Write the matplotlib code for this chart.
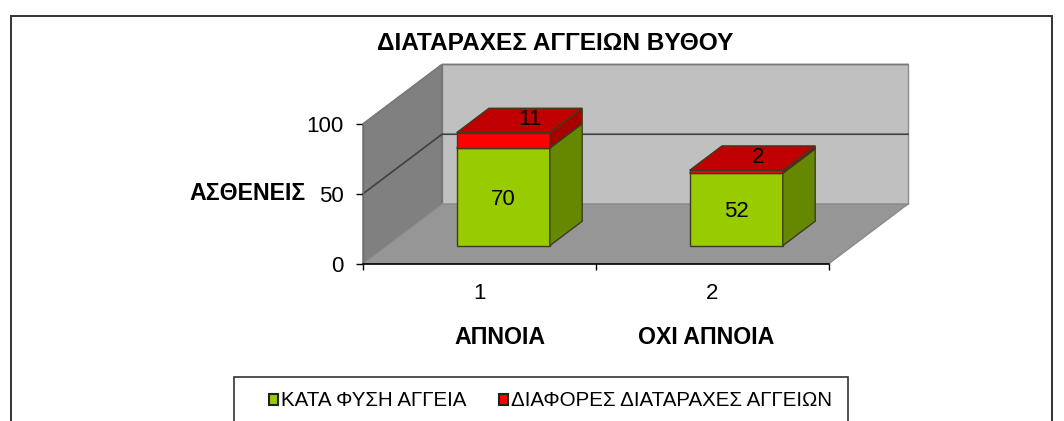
import matplotlib
matplotlib.use('Agg')
import matplotlib.pyplot as plt
from matplotlib.patches import Polygon, Patch, Rectangle
from matplotlib.lines import Line2D

categories = ['1', '2']
group_names = ['ΑΠΝΟΙΑ', 'ΟΧΙ ΑΠΝΟΙΑ']
normal = [70, 52]
disorder = [11, 2]
series_names = ['ΚΑΤΑ ΦΥΣΗ ΑΓΓΕΙΑ', 'ΔΙΑΦΟΡΕΣ ΔΙΑΤΑΡΑΧΕΣ ΑΓΓΕΙΩΝ']
y_ticks = [0, 50, 100]
title = 'ΔΙΑΤΑΡΑΧΕΣ ΑΓΓΕΙΩΝ ΒΥΘΟΥ'
y_name = 'ΑΣΘΕΝΕΙΣ'

W, H = 1064, 421
plt.rcParams['font.family'] = ['Liberation Sans', 'DejaVu Sans']

# depth of the box in data units, the walls sit at depth 1
depth_x = 79 / 233.0
depth_y = 59.5 / 1.395
bar_w = 0.4
bar_front = 0.3
bar_back = 0.71


def pt(x, y, d=0.0):
	return (x + d * depth_x, y + d * depth_y)


def poly(ax, pts, color, edge='none', lw=0.0, z=1):
	p = Polygon(pts, closed=True, facecolor=color, edgecolor=edge, linewidth=lw, clip_on=False, zorder=z)
	ax.add_patch(p)


def block(ax, x0, x1, y0, y1, front, top, side, z):
	edge = '#3c3c20'
	poly(ax, [pt(x0, y0, bar_front), pt(x1, y0, bar_front), pt(x1, y1, bar_front), pt(x0, y1, bar_front)], front, edge, 1.0, z)
	poly(ax, [pt(x1, y0, bar_front), pt(x1, y0, bar_back), pt(x1, y1, bar_back), pt(x1, y1, bar_front)], side, edge, 1.0, z)
	poly(ax, [pt(x0, y1, bar_front), pt(x1, y1, bar_front), pt(x1, y1, bar_back), pt(x0, y1, bar_back)], top, edge, 1.0, z)


fig = plt.figure(figsize=(W / 100.0, H / 100.0), dpi=100, facecolor='white')
ax = fig.add_axes([363.0 / W, (H - 263.5) / H, 466.0 / W, 139.5 / H])
ax.set_xlim(0, 2)
ax.set_ylim(0, 100)
ax.patch.set_visible(False)

# walls and floor
poly(ax, [pt(0, 0, 1), pt(2, 0, 1), pt(2, 100, 1), pt(0, 100, 1)], '#c0c0c0', '#8c8c8c', 1.0)
poly(ax, [pt(0, 0), pt(0, 0, 1), pt(0, 100, 1), pt(0, 100)], '#808080', '#6e6e6e', 1.0)
poly(ax, [pt(0, 0), pt(2, 0), pt(2, 0, 1), pt(0, 0, 1)], '#969696', '#8a8a8a', 1.0)

for v in y_ticks[1:]:
	a, b, c = pt(0, v), pt(0, v, 1), pt(2, v, 1)
	col = '#404040' if v < 100 else '#7a7a7a'
	ax.add_line(Line2D([a[0], b[0], c[0]], [a[1], b[1], c[1]], color=col, lw=1.2, clip_on=False, zorder=2))

# bars
normal_shift = [(0, -3), (0, -2)]
for i in range(len(categories)):
	x0 = i + 0.5 - bar_w / 2
	x1 = i + 0.5 + bar_w / 2
	block(ax, x0, x1, 0, normal[i], '#99cc00', '#99cc00', '#668800', 3)
	block(ax, x0, x1, normal[i], normal[i] + disorder[i], '#ff0000', '#c00000', '#a80000', 4)

	c = pt(i + 0.5, normal[i] / 2.0, bar_front)
	ax.annotate(str(normal[i]), c, xytext=normal_shift[i], textcoords='offset pixels', fontsize=16, ha='center', va='center',
		color='black', zorder=6, annotation_clip=False)

label_shift = [(27, 21), (22, 14)]
for i in range(len(categories)):
	c = pt(i + 0.5, normal[i] + disorder[i] / 2.0, bar_front)
	ax.annotate(str(disorder[i]), c, xytext=label_shift[i], textcoords='offset pixels', fontsize=16,
		ha='center', va='center', color='black', zorder=6, annotation_clip=False)

# axes
ax.spines['top'].set_visible(False)
ax.spines['right'].set_visible(False)
ax.spines['left'].set_color('#6e6e6e')
ax.spines['left'].set_linewidth(1.0)
ax.spines['bottom'].set_color('black')
ax.spines['bottom'].set_linewidth(1.2)
ax.spines['bottom'].set_zorder(5)
ax.set_yticks(y_ticks)
ax.set_yticklabels([str(v) for v in y_ticks], fontsize=16)
ax.set_xticks([0, 1, 2])
ax.set_xticklabels([])
ax.set_xticks([i + 0.5 for i in range(len(categories))], minor=True)
ax.set_xticklabels(categories, minor=True, fontsize=16)
ax.tick_params(axis='y', length=5, width=1.0, pad=9)
ax.tick_params(axis='x', which='major', length=4, width=1.0)
ax.tick_params(axis='x', which='minor', length=0, pad=14)

fig.text(555.0 / W, 1 - 44.0 / H, title, fontsize=17.6, fontweight='bold', ha='center', va='center')
fig.text(306.0 / W, 1 - 194.0 / H, y_name, fontsize=16.7, fontweight='bold', ha='right', va='center')
for i in range(len(group_names)):
	px = [500, 706][i]
	fig.text(float(px) / W, 1 - 338.0 / H, group_names[i], fontsize=16.7, fontweight='bold', ha='center', va='center')

# outer frame and legend box run off the bottom of the picture
fig.add_artist(Rectangle((10.5 / W, -0.1), (1052 - 10.5) / W, 1.1 - 15.5 / H, transform=fig.transFigure,
	facecolor='none', edgecolor='#333333', linewidth=1.4, zorder=-1))
fig.add_artist(Rectangle((233.5 / W, -0.1), (848 - 233.5) / W, 0.1 + (H - 376.5) / H, transform=fig.transFigure,
	facecolor='white', edgecolor='#333333', linewidth=1.2, zorder=0))

handles = [Patch(facecolor='#99cc00', edgecolor='#222222', linewidth=1.5),
	Patch(facecolor='#ff0000', edgecolor='#222222', linewidth=1.5)]
fig.legend(handles, series_names, loc='center left', bbox_to_anchor=(269.0 / W, 1 - 401.0 / H), ncol=2, frameon=False,
	fontsize=14.8, handlelength=0.45, handleheight=0.45, handletextpad=0.12, columnspacing=1.6, borderpad=0, borderaxespad=0)

fig.savefig('out.png', dpi=100, facecolor='white')
